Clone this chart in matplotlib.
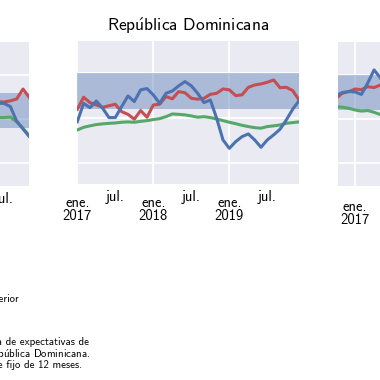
import matplotlib
matplotlib.use("Agg")
import matplotlib.pyplot as plt

# datos (indice de mes: 0 = ene. 2017)
meses_rd = list(range(36))
infl_rd = [2.29, 3.31, 3.07, 3.44, 3.04, 2.52, 2.52, 3.13, 3.72, 3.41, 4.06, 4.13,
           3.78, 3.31, 3.87, 4.00, 4.28, 4.52, 4.28, 3.87, 3.35, 3.50, 2.48, 1.28,
           0.81, 1.18, 1.46, 1.61, 1.28, 0.87, 1.28, 1.56, 1.87, 2.39, 2.98, 3.46]
exp_rd = [2.98, 3.65, 3.35, 3.22, 3.09, 3.18, 3.26, 2.85, 2.70, 2.43, 2.91, 2.54,
          3.22, 3.26, 3.69, 3.56, 3.96, 3.90, 3.59, 3.54, 3.59, 3.81, 3.87, 4.11,
          4.06, 3.74, 3.78, 4.20, 4.33, 4.39, 4.48, 4.61, 4.18, 4.20, 4.02, 3.50]
sub_rd = [1.83, 1.98, 2.06, 2.13, 2.17, 2.20, 2.22, 2.26, 2.28, 2.26, 2.31, 2.35,
          2.41, 2.46, 2.57, 2.72, 2.70, 2.67, 2.61, 2.54, 2.57, 2.52, 2.44, 2.35,
          2.26, 2.18, 2.09, 2.02, 1.96, 1.93, 2.02, 2.06, 2.11, 2.20, 2.24, 2.28]

meses_izq = [28, 29, 30, 31, 32, 33, 34]
infl_izq = [3.45, 3.42, 3.40, 3.23, 2.40, 1.95, 1.52]
exp_izq = [3.45, 3.50, 3.48, 3.55, 3.65, 4.22, 3.74]
sub_izq = [2.60, 2.60, 2.60, 2.63, 2.36, 2.00, 1.55]

meses_der = [-3, -2, -1, 0, 1, 2, 3, 4]
infl_der = [3.83, 4.01, 4.07, 4.04, 3.90, 4.55, 5.30, 4.84]
exp_der = [3.68, 3.97, 4.06, 4.21, 4.17, 4.34, 4.29, 4.44]
sub_der = [3.20, 3.17, 3.11, 3.01, 2.95, 2.98, 2.88, 2.75]

ticks_ene = [0, 12, 24]
labels_ene = ["ene.\n2017", "ene.\n2018", "ene.\n2019"]
ticks_jul = [6, 18, 30]
labels_jul = ["jul.", "jul.", "jul."]

plt.rcParams['font.family'] = ['cmss10', 'DejaVu Sans']
plt.rcParams['mathtext.fontset'] = 'cm'
plt.rcParams['axes.formatter.use_mathtext'] = True

azul = '#4c72b0'
rojo = '#c44e52'
verde = '#55a868'

# la u con tilde se compone con mathtext para que salga en cmss10
U_TILDE = r"$\mathsf{\acute{u}}$"

W = H = 380.0
fig = plt.figure(figsize=(3.8, 3.8), dpi=100)


def panel(x0, x1, y0, y1, xlim, ylim, meta, meses, infl, exp, sub, pad_ene=9, pad_jul=4):
    ax = fig.add_axes([x0 / W, 1 - y1 / H, (x1 - x0) / W, (y1 - y0) / H])
    ax.set_facecolor('#eaeaf2')
    for s in ax.spines.values():
        s.set_visible(False)
    ax.set_axisbelow(True)
    ax.grid(True, which='major', color='white', lw=1.3)
    ax.axhspan(meta[0], meta[1], color=azul, alpha=0.4, lw=0, zorder=1)
    ax.plot(meses, sub, color=verde, lw=2.2, zorder=2)
    ax.plot(meses, exp, color=rojo, lw=2.2, zorder=2)
    ax.plot(meses, infl, color=azul, lw=2.2, zorder=2)
    ax.set_xlim(*xlim)
    ax.set_ylim(*ylim)
    ax.set_yticks([0, 2.5, 5])
    ax.set_yticklabels([])
    ax.set_xticks(ticks_ene)
    ax.set_xticklabels(labels_ene, fontsize=10.5, linespacing=0.85)
    ax.set_xticks(ticks_jul, minor=True)
    ax.set_xticklabels(labels_jul, minor=True, fontsize=10.5)
    ax.tick_params(which='both', length=0)
    ax.tick_params(axis='x', which='major', pad=pad_ene)
    ax.tick_params(axis='x', which='minor', pad=pad_jul)
    return ax


# panel izquierdo (cortado)
panel(29.3 - 34 * 6.33, 29.3, 41.7, 186, (0, 34), (-1.29, 6.91), (2, 4),
      meses_izq, infl_izq, exp_izq, sub_izq)

# panel central
ax = panel(77.3, 299, 40.7, 184, (0, 35), (-1.17, 6.79), (3, 5),
           meses_rd, infl_rd, exp_rd, sub_rd)
ax.set_title("Rep" + U_TILDE + "blica Dominicana", fontsize=12.5, pad=7)

# panel derecho (cortado)
panel(338, 338 + 37.7 * 6.33, 41.7, 185.7, (-2.7, 35), (-1.31, 6.91), (3, 5),
      meses_der, infl_der, exp_der, sub_der, pad_ene=10.5)

# textos al pie (cortados a la izquierda)
fs = 7.8
fig.text(19 / W, 1 - 298.3 / H, "Variación respecto al mismo mes del año anterior",
         ha='right', va='center', fontsize=fs)
fig.text(89 / W, 1 - 342.3 / H, "Nota: Las expectativas provienen de la encuesta de expectativas de",
         ha='right', va='center', fontsize=fs)
fig.text(90 / W, 1 - 354.3 / H, "macroeconómicas del Banco Central de la Rep" + U_TILDE + "blica Dominicana.",
         ha='right', va='center', fontsize=fs)
fig.text(82 / W, 1 - 365 / H, "Se interpolan para obtener un alcance fijo de 12 meses.",
         ha='right', va='center', fontsize=fs)

fig.savefig("out.png", dpi=100, facecolor='white')
